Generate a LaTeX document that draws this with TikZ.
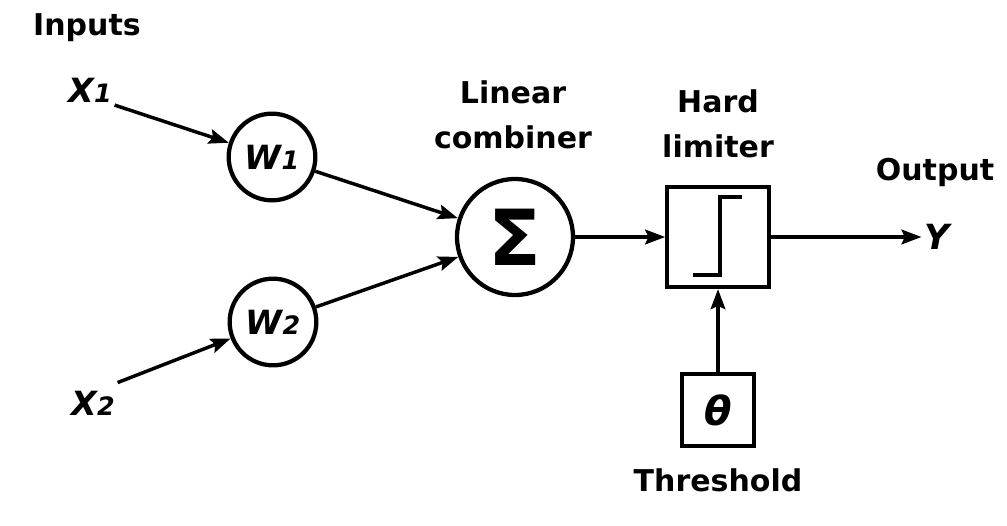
\documentclass[tikz,border=0pt]{standalone}
\usepackage{fontspec}
\setmainfont{DejaVu Sans}
\usetikzlibrary{arrows.meta,positioning}
\tikzset{
  lbl/.style={font=\bfseries\fontsize{22.5}{34}\selectfont, align=center, inner sep=1pt},
  var/.style={font=\bfseries\itshape\fontsize{25}{28}\selectfont, inner sep=2pt},
  neuron/.style={circle, draw, line width=3.2pt, minimum size=65pt, inner sep=0pt},
  summer/.style={neuron, minimum size=87pt},
  blk/.style={rectangle, draw, line width=3.2pt, minimum width=76pt, minimum height=75pt, inner sep=0pt},
  smallblk/.style={blk, minimum width=54pt, minimum height=54pt},
  flow/.style={-{Stealth[length=15pt, width=11pt, inset=2.5pt]}, line width=2.6pt},
  stepline/.style={line width=3.2pt},
}
\newcommand{\idx}[1]{{\fontsize{19}{19}\selectfont #1}}

\begin{document}
\begin{tikzpicture}[x=0.75pt, y=-0.75pt]
  \useasboundingbox (0,0) rectangle (1007,525);
  % inputs and weights
  \node[lbl] (inp) at (87,28) {Inputs};
  \node[var] (x1) at (90,90) {X\idx{1}};
  \node[var] (x2) at (93,403) {X\idx{2}};
  \node[neuron, var] (w1) at (272,157) {W\idx{1}};
  \node[neuron, var] (w2) at (273,322) {W\idx{2}};
  % combiner, limiter, threshold
  \node[summer] (sum) at (515,237) {\bfseries\fontsize{58}{58}\selectfont Σ};
  \node[lbl] (sumlbl) at (513,115) {Linear\\combiner};
  \node[blk] (lim) at (718,237) {};
  \node[lbl] (limlbl) at (718,124) {Hard\\limiter};
  \node[smallblk] (thr) at (718,410) {\bfseries\itshape\fontsize{30}{30}\selectfont θ};
  \node[lbl] (thrlbl) at (718,480) {Threshold};
  \node[var, font=\bfseries\itshape\fontsize{26}{28}\selectfont] (out) at (937,237) {Y};
  \node[lbl] (outlbl) at (935,172) {Output};
  % step inside the limiter
  \draw[stepline] ([shift={(-25,38)}]lim.center) -- ++(27,0) -- ++(0,-78) -- ++(22,0);
  % connectors
  \draw[flow] (x1.south east) -- (w1);
  \draw[flow] ([yshift=4pt]x2.north east) -- (w2);
  \draw[flow] (w1) -- (sum); \draw[flow] (w2) -- (sum);
  \draw[flow] (sum) -- (lim); \draw[flow] (lim) -- (out);
  \draw[flow] (thr) -- (lim);
\end{tikzpicture}
\end{document}
